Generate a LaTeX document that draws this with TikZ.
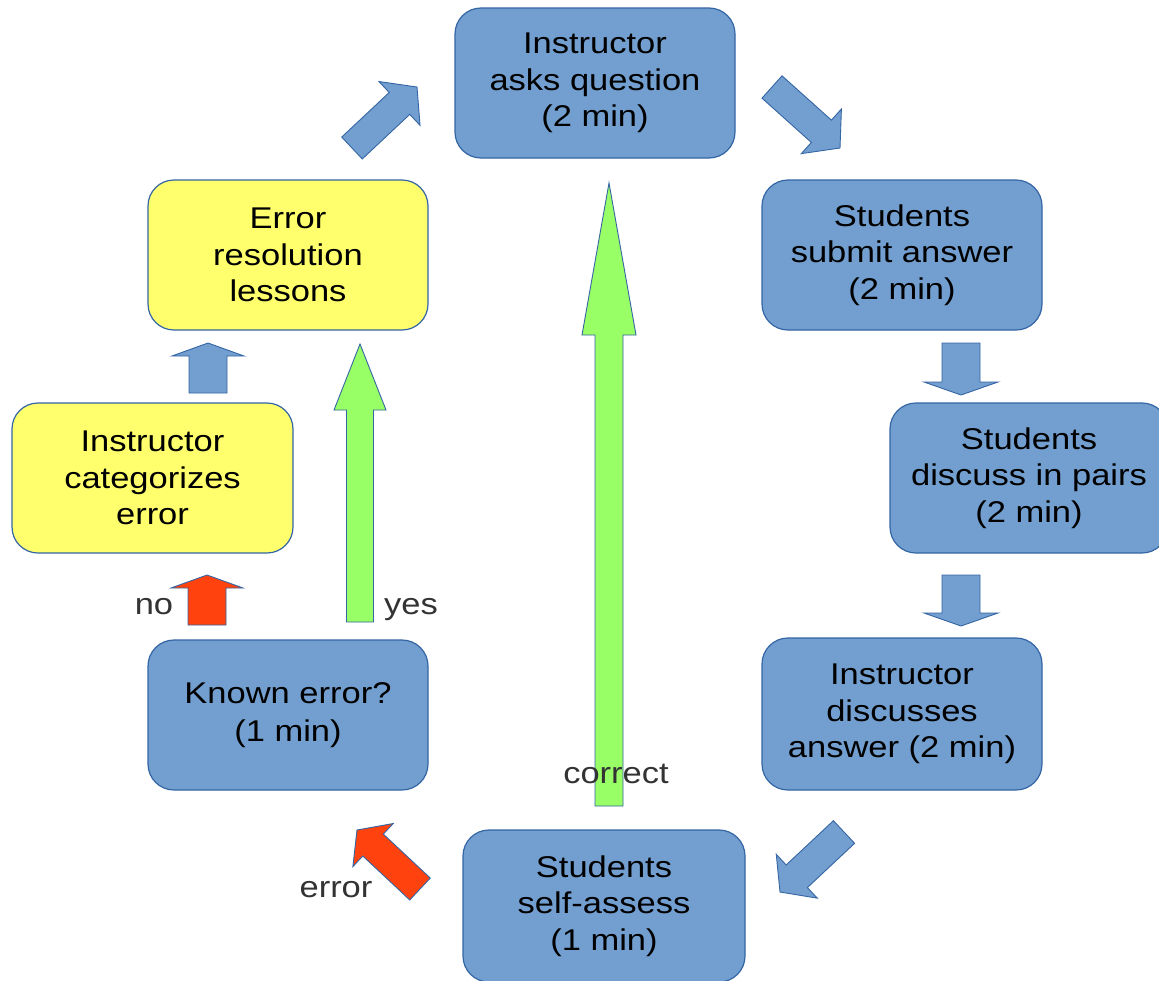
\documentclass[tikz,border=0pt]{standalone}
\usepackage{fontspec}
\setmainfont{Liberation Sans}[FakeStretch=1.15]
\usetikzlibrary{calc}
\definecolor{boxblue}{HTML}{729FCF}
\definecolor{edgeblue}{HTML}{3465A4}
\definecolor{boxyellow}{HTML}{FFFF6D}
\definecolor{arrgreen}{HTML}{99FF66}
\definecolor{arrred}{HTML}{FF420E}
\definecolor{labelgray}{HTML}{333333}
% #1 style, #2 tail coordinate, #3 tip coordinate, #4 half shaft, #5 half head, #6 head length
\newcommand\blockarrow[6]{%
  \coordinate (ba-t) at (#2);
  \coordinate (ba-h) at (#3);
  \coordinate (ba-b) at ($(ba-h)!#6!(ba-t)$);
  \filldraw[#1] ($(ba-t)!#4!90:(ba-h)$) -- ($(ba-b)!#4!-90:(ba-t)$) -- ($(ba-b)!#5!-90:(ba-t)$) -- (ba-h) -- ($(ba-b)!#5!90:(ba-t)$) -- ($(ba-b)!#4!90:(ba-t)$) -- ($(ba-t)!#4!-90:(ba-h)$) -- cycle;
}
\begin{document}
\begin{tikzpicture}[x=1pt,y=-1pt,
  stepbox/.style={draw=edgeblue, line width=1.2pt, fill=boxblue, rounded corners=26pt,
    minimum width=280pt, minimum height=150pt, align=center, inner sep=0pt,
    font=\fontsize{30}{36.5}\selectfont, text=black},
  yellowbox/.style={stepbox, fill=boxyellow},
  bluearrow/.style={fill=boxblue, draw=edgeblue, line width=0.9pt, line join=miter},
  redarrow/.style={fill=arrred, draw=edgeblue, line width=0.9pt, line join=miter},
  greenarrow/.style={fill=arrgreen, draw=edgeblue, line width=0.9pt, line join=miter},
  lbl/.style={font=\fontsize{30}{36}\selectfont, text=labelgray, inner sep=0pt, anchor=base}]
\useasboundingbox (0,0) rectangle (1159,980);
\fill[white] (0,0) rectangle (1159,980);

% boxes
\node[stepbox] (ask) at (595,83) {Instructor\\asks question\\(2 min)};
\node[stepbox] (submit) at (902,255) {Students\\submit answer\\(2 min)};
\node[stepbox, minimum width=278pt] (pairs) at (1029,478) {Students\\discuss in pairs\\(2 min)};
\node[stepbox, minimum height=152pt] (disc) at (902,714) {Instructor\\discusses\\answer (2 min)};
\node[stepbox, minimum width=282pt, minimum height=152pt] (self) at (604,906) {Students\\self-assess\\(1 min)};
\node[stepbox, font=\fontsize{30}{38}\selectfont] (known) at (288,715) {Known error?\\(1 min)};
\node[yellowbox, minimum width=281pt] (cat) at (152.5,478) {Instructor\\categorizes\\error};
\node[yellowbox] (res) at (288,255) {Error\\resolution\\lessons};

% arrow end points
\coordinate (a1t) at (352,148); \coordinate (a1h) at (417,87);
\coordinate (a2t) at (772,87);  \coordinate (a2h) at (840,148);
\coordinate (a3t) at (961,343); \coordinate (a3h) at (961,395);
\coordinate (a4t) at (961,575); \coordinate (a4h) at (961,626);
\coordinate (a5t) at (844,832); \coordinate (a5h) at (780,892);
\coordinate (a6t) at (420,889); \coordinate (a6h) at (357,830);
\coordinate (a7t) at (207,625); \coordinate (a7h) at (207,575);
\coordinate (a8t) at (208,393); \coordinate (a8h) at (208,343);
\coordinate (a9t) at (360,622); \coordinate (a9h) at (360,344);
\coordinate (a10t) at (609,806); \coordinate (a10h) at (609,183);

\blockarrow{bluearrow}{a1t}{a1h}{15pt}{30pt}{24pt}
\blockarrow{bluearrow}{a2t}{a2h}{15pt}{30pt}{25pt}
\blockarrow{bluearrow}{a3t}{a3h}{19pt}{37pt}{13pt}
\blockarrow{bluearrow}{a4t}{a4h}{19pt}{37pt}{13pt}
\blockarrow{bluearrow}{a5t}{a5h}{15.5pt}{30pt}{23pt}
\blockarrow{redarrow}{a6t}{a6h}{15pt}{29.5pt}{22pt}
\blockarrow{redarrow}{a7t}{a7h}{19pt}{36pt}{13pt}
\blockarrow{bluearrow}{a8t}{a8h}{19pt}{36pt}{13pt}
\blockarrow{greenarrow}{a9t}{a9h}{13.5pt}{26pt}{66pt}
\blockarrow{greenarrow}{a10t}{a10h}{14pt}{27pt}{152pt}

% labels
\node[lbl] (lno) at (154,614) {no};
\node[lbl] (lyes) at (411,614) {yes};
\node[lbl] (lcorrect) at (616,783) {correct};
\node[lbl] (lerror) at (336,897) {error};
\end{tikzpicture}
\end{document}
